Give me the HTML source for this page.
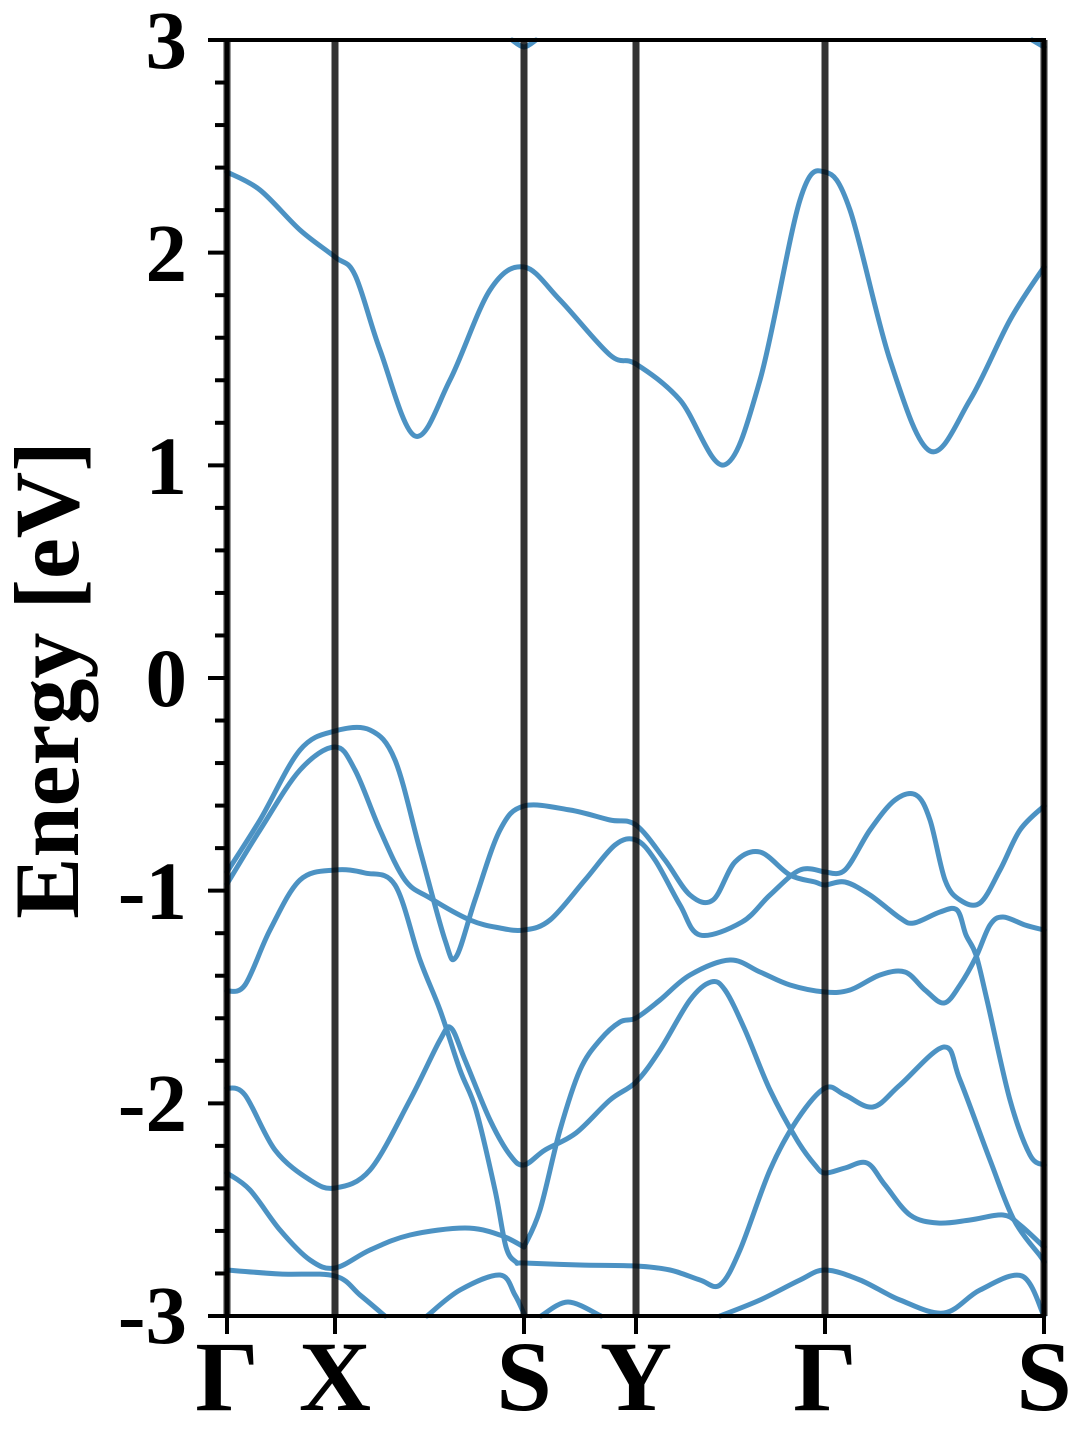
<!DOCTYPE html>
<html><head><meta charset="utf-8"><style>
html,body{margin:0;padding:0;background:#fff;}
text{font-family:"Liberation Serif","Times New Roman",Times,serif;font-weight:700;fill:#000;}
</style></head><body>
<svg id="s" width="1080" height="1440" viewBox="0 0 1080 1440" xmlns="http://www.w3.org/2000/svg">
<g id="bands" fill="none" stroke="#4c92c3" stroke-width="5" stroke-linejoin="round" stroke-linecap="round"></g>
<g stroke="#000" stroke-opacity="0.8" stroke-width="7">
<line x1="227" y1="40" x2="227" y2="1316"/><line x1="335" y1="40" x2="335" y2="1316"/>
<line x1="524" y1="40" x2="524" y2="1316"/><line x1="636" y1="40" x2="636" y2="1316"/>
<line x1="825" y1="40" x2="825" y2="1316"/><line x1="1044" y1="40" x2="1044" y2="1316"/>
</g>
<rect x="227" y="40" width="817" height="1276" fill="none" stroke="#000" stroke-width="4"/>
<g id="ticks" stroke="#000" stroke-width="4"></g>
<g font-size="83" text-anchor="end" font-family="Liberation Serif, serif" font-weight="700">
<text x="187" y="68">3</text><text x="187" y="281">2</text><text x="187" y="494">1</text>
<text x="187" y="706">0</text><text x="187" y="919">-1</text><text x="187" y="1131">-2</text>
<text x="187" y="1343">-3</text>
</g>
<g font-size="100" text-anchor="middle" font-family="Liberation Serif, serif" font-weight="700">
<text x="227" y="1410">Γ</text><text x="335" y="1410">X</text><text x="524" y="1410">S</text>
<text x="636" y="1410">Y</text><text x="825" y="1410">Γ</text><text x="1044" y="1410">S</text>
</g>
<text font-size="92" text-anchor="middle" font-family="Liberation Serif, serif" font-weight="700" transform="translate(78,680) rotate(-90)">Energy [eV]</text>
</svg>
<script>
var B=[
[[227,172],[260,190],[300,230],[335,257],[355,275],[380,350],[415,436],[450,380],[490,290],[524,267],[560,300],[610,355],[636,364],[680,400],[724,465],[760,380],[800,200],[825,172],[850,210],[890,360],[930,451],[970,400],[1010,320],[1044,267]],
[[512,40],[524,47],[536,40]],
[[1032,40],[1044,47]],
[[227,872],[260,820],[300,750],[335,731],[370,730],[395,760],[420,850],[445,940],[456,957],[475,900],[500,830],[524,806],[570,810],[610,820],[636,825],[665,860],[690,895],[713,900],[735,862],[760,852],[790,875],[815,882],[825,885],[845,882],[870,895],[900,918],[914,923],[940,912],[957,910],[966,935],[976,955],[987,1000],[1010,1100],[1030,1155],[1044,1165]],
[[825,872],[845,870],[870,830],[895,800],[916,795],[930,820],[945,880],[960,900],[980,903],[1000,870],[1020,830],[1044,806]],
[[227,884],[260,830],[300,770],[335,747],[355,770],[380,830],[405,880],[430,898],[470,920],[500,928],[524,930],[550,920],[585,880],[615,845],[636,840],[655,860],[680,905],[700,935],[742,922],[770,895],[800,870],[825,872]],
[[227,991],[245,985],[270,930],[300,880],[335,870],[365,873],[395,885],[420,960],[440,1010],[460,1070],[476,1110],[495,1190],[506,1247],[516,1262],[524,1263],[580,1265],[636,1266],[670,1270],[700,1280],[720,1285],[740,1250],[770,1170],[797,1120],[825,1088],[845,1095],[873,1107],[900,1085],[944,1047],[960,1080],[990,1160],[1014,1220],[1041,1257],[1044,1262]],
[[227,1088],[245,1095],[275,1150],[310,1180],[335,1188],[370,1170],[410,1100],[440,1040],[451,1028],[465,1060],[490,1120],[510,1155],[524,1165],[545,1150],[576,1133],[610,1100],[636,1082],[660,1050],[690,1000],[711,982],[725,990],[745,1030],[770,1090],[797,1140],[815,1165],[825,1173],[845,1168],[867,1163],[885,1185],[910,1215],[938,1223],[970,1220],[1003,1215],[1020,1225],[1044,1247]],
[[524,1247],[540,1210],[560,1130],[580,1070],[600,1040],[620,1022],[636,1018],[660,1000],[690,975],[730,960],[760,972],[790,985],[825,992],[850,990],[880,975],[905,972],[925,990],[944,1003],[960,985],[976,957],[990,925],[1003,917],[1025,925],[1044,930]],
[[227,1173],[250,1190],[280,1230],[310,1260],[335,1268],[370,1250],[410,1235],[465,1228],[500,1235],[524,1247]],
[[227,1270],[280,1274],[335,1276],[360,1295],[385,1316]],
[[427,1316],[460,1290],[500,1275],[515,1295],[525,1316]],
[[541,1316],[568,1302],[601,1316]],
[[720,1316],[760,1300],[800,1280],[825,1270],[860,1280],[900,1300],[944,1313],[980,1290],[1022,1276],[1044,1316]]
];
function cr(p){var d="M"+p[0][0]+","+p[0][1];for(var i=0;i<p.length-1;i++){var a=p[i-1]||p[i],b=p[i],c=p[i+1],e=p[i+2]||c;
d+=" C"+(b[0]+(c[0]-a[0])/6).toFixed(1)+","+(b[1]+(c[1]-a[1])/6).toFixed(1)+" "+(c[0]-(e[0]-b[0])/6).toFixed(1)+","+(c[1]-(e[1]-b[1])/6).toFixed(1)+" "+c[0]+","+c[1];}return d;}
var g=document.getElementById("bands"),ns="http://www.w3.org/2000/svg";
B.forEach(function(p){var el=document.createElementNS(ns,"path");el.setAttribute("d",cr(p));g.appendChild(el);});
var t=document.getElementById("ticks");
for(var k=0;k<=30;k++){var y=40+k*1276/30;var l=document.createElementNS(ns,"line");var maj=(k%5==0);
l.setAttribute("x1",maj?208:215);l.setAttribute("x2",227);l.setAttribute("y1",y);l.setAttribute("y2",y);t.appendChild(l);}
[227,335,524,636,825,1044].forEach(function(x){var l=document.createElementNS(ns,"line");l.setAttribute("x1",x);l.setAttribute("x2",x);l.setAttribute("y1",1316);l.setAttribute("y2",1334);t.appendChild(l);});
</script>
</body></html>
